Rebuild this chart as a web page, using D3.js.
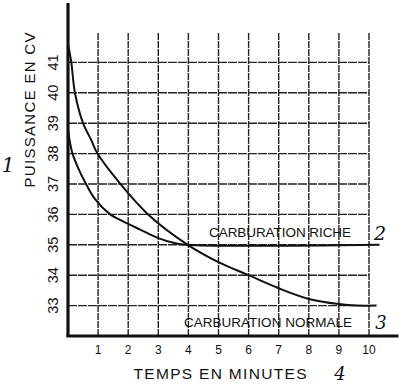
<!DOCTYPE html>
<html>
<head>
<meta charset="utf-8">
<script src="https://cdn.jsdelivr.net/npm/d3@7"></script>
<style>
  body { margin: 0; background: #fff; }
  text { font-family: "Liberation Sans", Arial, sans-serif; fill: #111; }
  .hand { font-family: "DejaVu Serif", serif; font-style: italic; }
</style>
</head>
<body>
<svg id="chart"></svg>
<script>
// values
const xTicks = [1, 2, 3, 4, 5, 6, 7, 8, 9, 10];
const yTicks = [33, 34, 35, 36, 37, 38, 39, 40, 41];

const richeTime  = [0, 0.05, 0.15, 0.35, 0.6, 0.9, 1.4, 1.73, 2.4, 3, 3.5, 3.95, 10.35];
const richePower = [38.8, 38.45, 38, 37.5, 37, 36.5, 36, 35.82, 35.5, 35.22, 35.07, 35, 35];

const normaleTime  = [0, 0.11, 0.23, 0.5, 0.77, 0.98, 1.7, 2.66, 3.98, 5, 6, 7, 8, 9, 9.6, 10.25];
const normalePower = [41.6, 41, 40, 39, 38.45, 38, 37.05, 36, 35, 34.43, 34, 33.57, 33.22, 33.05, 33, 33];

const width = 403, height = 388;

const svg = d3.select('#chart')
    .attr('width', width)
    .attr('height', height);

const x = d3.scaleLinear().domain([0, 10]).range([68, 369]);
const y = d3.scaleLinear().domain([32, 42]).range([336, 32]);

// grid
svg.append('g')
    .selectAll('line')
    .data(xTicks)
    .join('line')
    .attr('x1', d => x(d)).attr('x2', d => x(d))
    .attr('y1', y(32)).attr('y2', y(42))
    .attr('stroke', '#222')
    .attr('stroke-width', 1.4)
    .attr('stroke-dasharray', '7,1');

svg.append('g')
    .selectAll('line')
    .data(yTicks)
    .join('line')
    .attr('x1', x(0)).attr('x2', x(10))
    .attr('y1', d => y(d)).attr('y2', d => y(d))
    .attr('stroke', '#222')
    .attr('stroke-width', 1.4)
    .attr('stroke-dasharray', '9,1');

// curves
const line = d3.line()
    .x(d => x(d[0]))
    .y(d => y(d[1]))
    .curve(d3.curveCatmullRom.alpha(0.5));

svg.append('path')
    .datum(d3.zip(richeTime, richePower))
    .attr('d', line)
    .attr('fill', 'none')
    .attr('stroke', '#111')
    .attr('stroke-width', 2);

svg.append('path')
    .datum(d3.zip(normaleTime, normalePower))
    .attr('d', line)
    .attr('fill', 'none')
    .attr('stroke', '#111')
    .attr('stroke-width', 2);

// axes
svg.append('line')
    .attr('x1', x(0)).attr('x2', x(0))
    .attr('y1', y(32) + 1).attr('y2', y(42.95))
    .attr('stroke', '#111')
    .attr('stroke-width', 3.2);

svg.append('line')
    .attr('x1', x(0) - 1.5).attr('x2', x(10.98))
    .attr('y1', y(32)).attr('y2', y(32))
    .attr('stroke', '#111')
    .attr('stroke-width', 2.8);

// tick labels
svg.append('g')
    .selectAll('text')
    .data(xTicks)
    .join('text')
    .attr('x', d => x(d))
    .attr('y', 354)
    .attr('text-anchor', 'middle')
    .attr('font-size', 12)
    .text(d => d);

svg.append('g')
    .selectAll('text')
    .data(yTicks)
    .join('text')
    .attr('transform', d => `translate(58,${y(d)}) rotate(-90)`)
    .attr('text-anchor', 'middle')
    .attr('font-size', 14.5)
    .text(d => d);

// titles
svg.append('text')
    .attr('transform', 'translate(35,110) rotate(-90)')
    .attr('text-anchor', 'middle')
    .attr('font-size', 15)
    .attr('textLength', 155)
    .text('PUISSANCE EN CV');

svg.append('text')
    .attr('x', 220).attr('y', 379)
    .attr('text-anchor', 'middle')
    .attr('font-size', 15.5)
    .attr('textLength', 173)
    .text('TEMPS EN MINUTES');

svg.append('text')
    .attr('x', 209).attr('y', 237)
    .attr('font-size', 13.5)
    .attr('textLength', 142)
    .text('CARBURATION RICHE');

svg.append('text')
    .attr('x', 184).attr('y', 327)
    .attr('font-size', 13.5)
    .attr('textLength', 168)
    .text('CARBURATION NORMALE');

// handwritten numbers
const hand = [
    { t: '1', x: 8, y: 172, s: 20 },
    { t: '2', x: 380, y: 240, s: 19 },
    { t: '3', x: 381, y: 329, s: 18 },
    { t: '4', x: 340, y: 380, s: 18 }
];
svg.append('g')
    .selectAll('text')
    .data(hand)
    .join('text')
    .attr('class', 'hand')
    .attr('x', d => d.x)
    .attr('y', d => d.y)
    .attr('text-anchor', 'middle')
    .attr('font-size', d => d.s)
    .text(d => d.t);
</script>
</body>
</html>
